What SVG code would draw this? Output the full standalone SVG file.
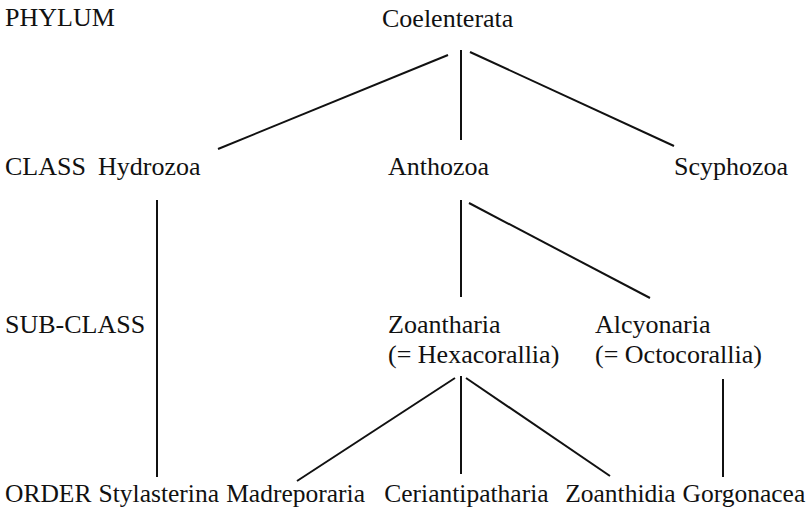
<svg xmlns="http://www.w3.org/2000/svg" width="808" height="509" viewBox="0 0 808 509">
<style>
text{font-family:"Liberation Serif","Times New Roman",serif;font-size:26px;fill:#111}
.o{font-size:25.5px}
.c line{stroke:#111;stroke-width:2;stroke-linecap:butt}
</style>
<rect width="808" height="509" fill="#fff"/>
<g id="ranks">
<text x="5" y="26">PHYLUM</text>
<text x="5" y="175">CLASS</text>
<text x="5" y="333">SUB-CLASS</text>
<text class="o" x="5" y="502">ORDER</text>
</g>
<g id="coelenterata"><text x="382" y="27">Coelenterata</text></g>
<g id="hydrozoa"><text x="98" y="175">Hydrozoa</text></g>
<g id="anthozoa"><text x="388" y="175">Anthozoa</text></g>
<g id="scyphozoa"><text x="674" y="175">Scyphozoa</text></g>
<g id="zoantharia"><text x="388" y="333">Zoantharia</text><text x="388" y="363">(= Hexacorallia)</text></g>
<g id="alcyonaria"><text x="595" y="333">Alcyonaria</text><text x="595" y="363">(= Octocorallia)</text></g>
<g id="stylasterina"><text class="o" x="98.6" y="502">Stylasterina</text></g>
<g id="madreporaria"><text class="o" x="226.2" y="502">Madreporaria</text></g>
<g id="ceriantipatharia"><text class="o" x="384.3" y="502">Ceriantipatharia</text></g>
<g id="zoanthidia"><text class="o" x="565.2" y="502">Zoanthidia</text></g>
<g id="gorgonacea"><text class="o" x="682.5" y="502">Gorgonacea</text></g>
<g id="connectors" class="c">
<line x1="448" y1="55" x2="218" y2="149"/>
<line x1="461" y1="50" x2="461" y2="140"/>
<line x1="470" y1="52" x2="674" y2="146"/>
<line x1="157" y1="200" x2="157" y2="477"/>
<line x1="461" y1="200" x2="461" y2="297"/>
<line x1="469" y1="203" x2="650" y2="298"/>
<line x1="455" y1="378" x2="297" y2="481"/>
<line x1="461" y1="376" x2="461" y2="474"/>
<line x1="466" y1="378" x2="610" y2="476"/>
<line x1="723" y1="379" x2="723" y2="477"/>
</g>
</svg>
